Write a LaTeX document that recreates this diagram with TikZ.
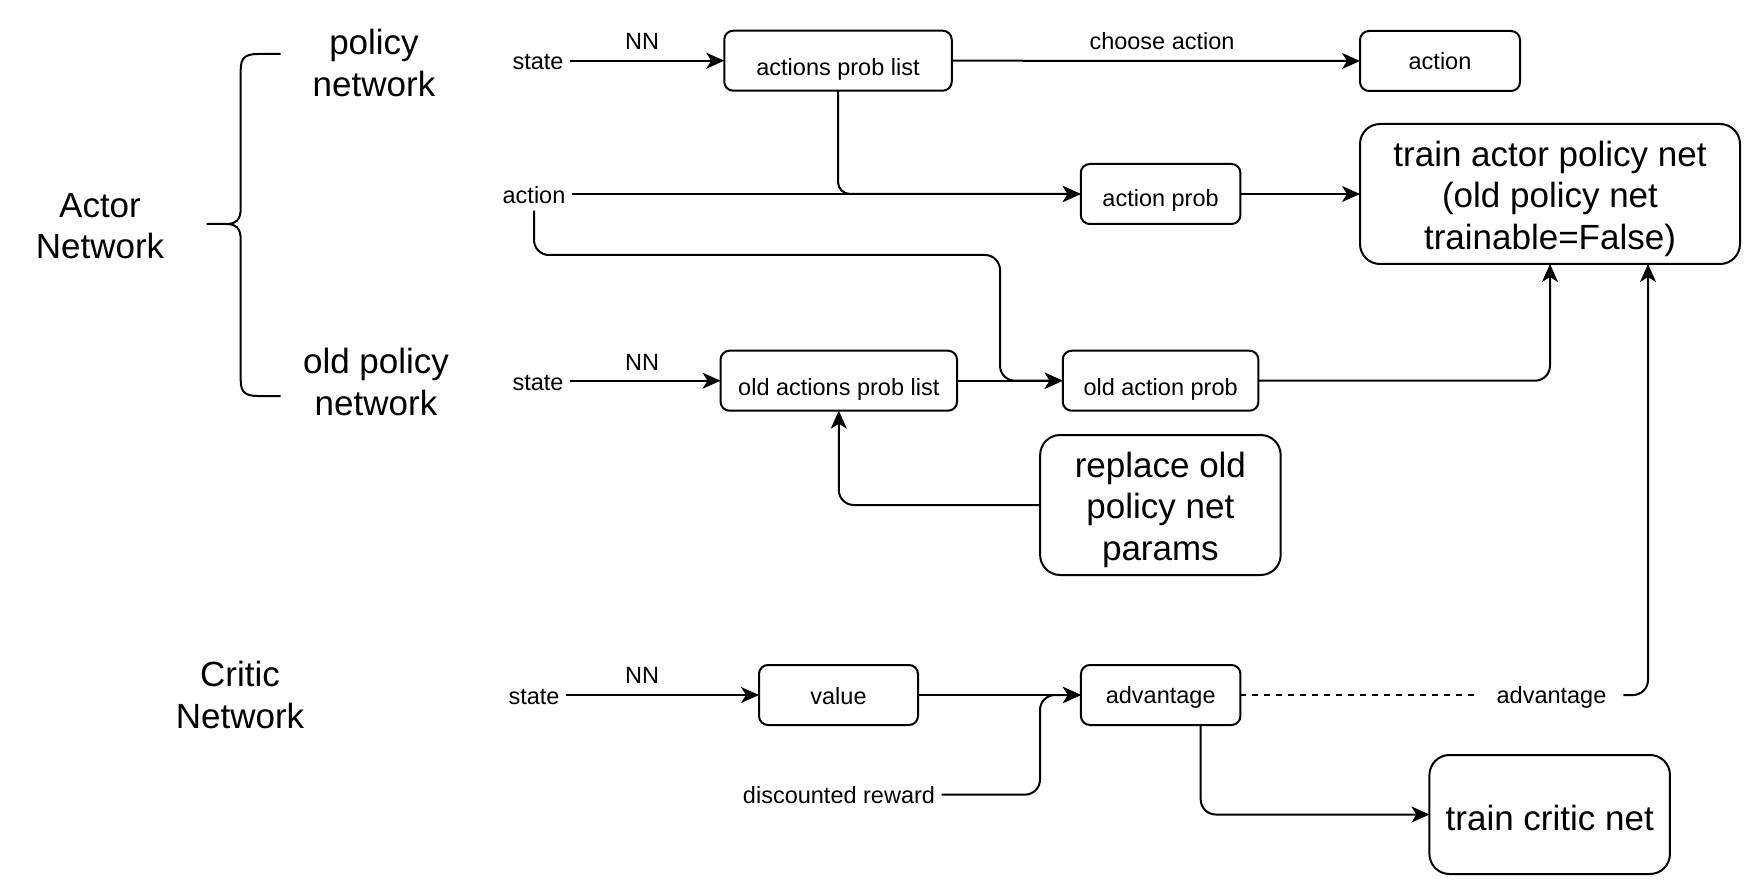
\documentclass[tikz,border=0pt]{standalone}
\usepackage{fontspec}
\setmainfont{Liberation Sans}
\usetikzlibrary{arrows.meta}
\newcommand{\smallfnt}{\fontsize{23.5}{27}\selectfont}
\newcommand{\bigfnt}{\fontsize{35}{41.5}\selectfont}
\newcommand{\highstrut}{\rule{0pt}{35pt}}
\tikzset{
  conn/.style={line width=2pt, line cap=butt},
  arr/.style={conn, -{Stealth[length=18pt,width=16pt,inset=5pt]}},
  box/.style={draw, line width=2pt, rounded corners=9pt, inner sep=0pt, outer sep=0pt, font=\smallfnt, text depth=0pt},
  bigbox/.style={draw, line width=2pt, rounded corners=20pt, inner sep=0pt, outer sep=0pt, font=\bigfnt, align=center},
  lbl/.style={font=\smallfnt, inner sep=6.5pt, outer sep=0pt, anchor=base},
  biglbl/.style={font=\bigfnt, align=center, inner sep=0pt},
}
\begin{document}
\begin{tikzpicture}[x=1pt, y=-1pt]
\useasboundingbox (0,0) rectangle (1762,896);

% left labels
\node[biglbl] (actorlbl) at (100,226) {Actor\\Network};
\node[biglbl] (pollbl) at (374,63) {policy\\network};
\node[biglbl] (oldlbl) at (376,382) {old policy\\network};
\node[biglbl] (criticlbl) at (240,695) {Critic\\Network};

% brace
\draw[conn] (280.7,54) -- (258,54) .. controls (245,54) and (240.7,58) .. (240.7,70)
  -- (240.7,208) .. controls (240.7,220) and (236,224) .. (226,224) -- (206.7,224)
  (226,224) .. controls (236,224) and (240.7,228) .. (240.7,240)
  -- (240.7,380) .. controls (240.7,392) and (245,396) .. (258,396) -- (280.7,396);

% boxes
\node[box, minimum width=227.5pt, minimum height=60pt, text height=30pt] (apl) at (838,60.7) {actions prob list};
\node[box, minimum width=160pt, minimum height=60pt, text height=18pt] (act) at (1440,61) {action};
\node[box, minimum width=159.7pt, minimum height=60pt, text height=26pt] (ap) at (1160.6,194) {action prob};
\node[bigbox, minimum width=380pt, minimum height=140pt] (ta) at (1550,194) {\highstrut train actor policy net\\(old policy net\\trainable=False)};
\node[box, minimum width=236.5pt, minimum height=60pt, text height=30pt] (oapl) at (838.8,380.7) {old actions prob list};
\node[box, minimum width=195.7pt, minimum height=60pt, text height=30pt] (oap) at (1160.6,380.7) {old action prob};
\node[bigbox, minimum width=240.5pt, minimum height=140pt] (rep) at (1160.4,505) {\highstrut replace old\\policy net\\params};
\node[box, minimum width=159pt, minimum height=60pt, text height=18pt] (val) at (838.5,695) {value};
\node[box, minimum width=159.5pt, minimum height=60pt, text height=16pt] (adv) at (1160.7,695) {advantage};
\node[bigbox, minimum width=240.5pt, minimum height=119pt, text height=31pt, text depth=0pt] (tc) at (1549.7,814.5) {train critic net};

% small labels
\node[lbl] (st1) at (538,70) {state};
\node[lbl] (nn1) at (642,49.5) {NN};
\node[lbl] (ca) at (1162,50) {choose action};
\node[lbl] (actin) at (534,204) {action};
\node[lbl] (st2) at (538,390) {state};
\node[lbl] (nn2) at (642,370) {NN};
\node[lbl] (st3) at (534,704) {state};
\node[lbl] (nn3) at (642,683) {NN};
\node[lbl] (dr) at (839,803) {discounted reward};
\node[lbl, inner xsep=17pt] (adv2) at (1551.5,703) {advantage};

\coordinate (j1) at (1000,255);
\coordinate (j2) at (1040,695);

% connectors
\draw[arr] (apl.west -| st1.east) -- (apl.west);
\draw[arr] (apl.east) -- (act.west);
\draw[arr] (ap.west -| actin.east) -- (ap.west);
\draw[arr, rounded corners=12pt] (apl.south) |- (ap.west);
\draw[arr] (ap.east) -- (ta.west);
\draw[arr, rounded corners=15pt] (actin.south) |- (j1) |- (oap.west);
\draw[arr] (oapl.west -| st2.east) -- (oapl.west);
\draw[arr] (oapl.east) -- (oap.west);
\draw[arr, rounded corners=15pt] (oap.east) -| (ta.south);
\draw[arr, rounded corners=15pt] (rep.west) -| (oapl.south);
\draw[arr] (val.west -| st3.east) -- (val.west);
\draw[arr] (val.east) -- (adv.west);
\draw[arr, rounded corners=15pt] (dr.east) -| (j2) -- (adv.west);
\draw[conn, dash pattern=on 6pt off 6pt] (adv.east) -- (adv.east -| adv2.west);
\draw[arr, rounded corners=15pt] (adv.east -| adv2.east) -| ([xshift=98pt]ta.south);
\draw[arr, rounded corners=15pt] ([xshift=40pt]adv.south) |- (tc.west);
\end{tikzpicture}
\end{document}
